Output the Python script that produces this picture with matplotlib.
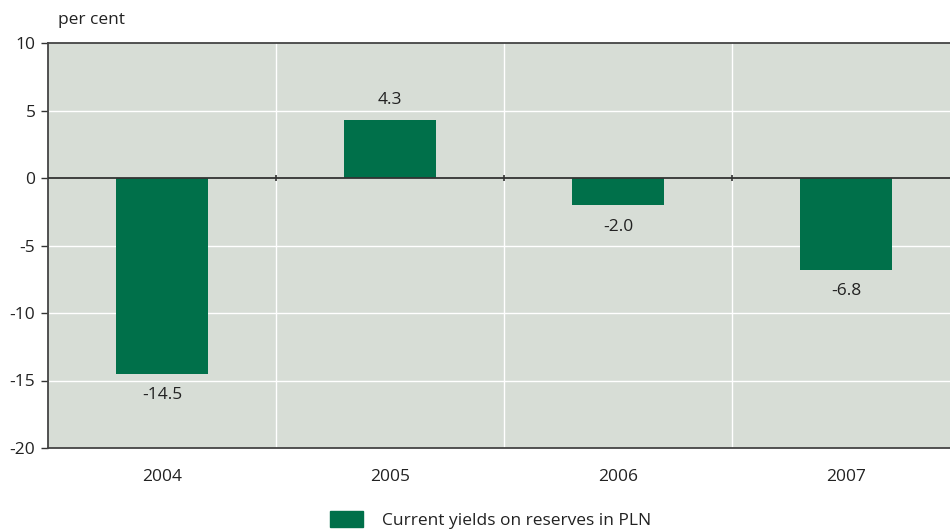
import matplotlib.pyplot as plt
import numpy as np

# datos del grafico
years = ["2004", "2005", "2006", "2007"]
yields = [-14.5, 4.3, -2.0, -6.8]
labels = ["-14.5", "4.3", "-2.0", "-6.8"]

green = "#00704a"
bg = "#d7ddd6"
txt = "#222222"
fs = 12.5

plt.rcParams["font.family"] = ["Open Sans", "DejaVu Sans"]

fig = plt.figure(figsize=(9.5, 5.31), dpi=100)
ax = fig.add_axes([48 / 950, 1 - 448 / 531, 1 - 48 / 950, (448 - 43) / 531])
ax.set_facecolor(bg)

x = np.arange(len(years))
ax.bar(x, yields, width=0.4, color=green, zorder=3)

# etiquetas de valores
for xi, v, lab in zip(x, yields, labels):
    if v >= 0:
        ax.text(xi, v + 0.9, lab, ha="center", va="bottom", fontsize=fs, color=txt)
    else:
        ax.text(xi, v - 1.0, lab, ha="center", va="top", fontsize=fs, color=txt)

ax.set_ylim(-20, 10)
ax.set_xlim(-0.5, (950 - 48) / 228 - 0.5)
ax.set_yticks(np.arange(-20, 11, 5))
ax.set_yticklabels([str(t) for t in range(-20, 11, 5)], fontsize=fs, color=txt)

# rejilla blanca
for t in range(-15, 10, 5):
    if t != 0:
        ax.axhline(t, color="white", lw=1, zorder=1)
for b in x + 0.5:
    ax.axvline(b, color="white", lw=1, zorder=1)

# linea del cero con marcas
ax.axhline(0, color="#333333", lw=1.3, zorder=4)
ax.plot(x[:-1] + 0.5, np.zeros(len(x) - 1), ls="none", marker="|", markersize=5,
        markeredgewidth=1.2, color="#333333", zorder=4)

ax.set_xticks(x)
ax.set_xticklabels(years, fontsize=fs, color=txt)
ax.tick_params(axis="x", length=0, pad=15)
ax.tick_params(axis="y", length=5, width=1, color="#333333", pad=4)

for s in ["left", "top", "bottom"]:
    ax.spines[s].set_color("#444444")
    ax.spines[s].set_linewidth(1.3)
ax.spines["right"].set_visible(False)

fig.text(58 / 950, 1 - 20 / 531, "per cent", fontsize=fs, color=txt, va="center")

# leyenda
h = plt.Rectangle((0, 0), 1, 1, color=green)
fig.legend([h], ["Current yields on reserves in PLN"], loc="center",
           bbox_to_anchor=(491 / 950, 1 - 520 / 531), frameon=False,
           fontsize=fs, handlelength=1.9, handleheight=1.0, handletextpad=1.1,
           labelcolor=txt)

fig.savefig("out.png", dpi=100)
